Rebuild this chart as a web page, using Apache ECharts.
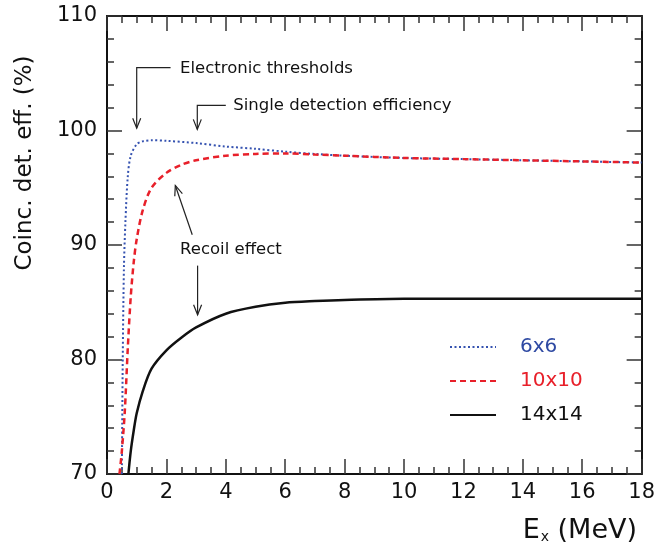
<!DOCTYPE html>
<html><head><meta charset="utf-8">
<script src="https://cdn.jsdelivr.net/npm/echarts@6/dist/echarts.min.js"></script>
<style>html,body{margin:0;padding:0;background:#fff;}#c{width:658px;height:549px;}</style>
</head><body><div id="c"></div>
<script>
// Data
const x6 = [0.50, 0.53, 0.57, 0.62, 0.70, 0.80, 1.0, 1.2, 1.5, 2.0, 3.0, 4.0, 5.0, 6.0, 7.0, 8.0, 10, 12, 14, 16, 18];
const y6 = [70, 80, 88, 92, 96, 97.8, 98.8, 99.05, 99.15, 99.1, 98.9, 98.6, 98.4, 98.15, 97.95, 97.8, 97.6, 97.5, 97.4, 97.3, 97.2];
const x10 = [0.42, 0.5, 0.6, 0.7, 0.8, 0.9, 1.0, 1.2, 1.5, 2.0, 2.5, 3.0, 4.0, 5.0, 6.0, 7.0, 8.0, 10, 12, 14, 16, 18];
const y10 = [70, 72, 75.5, 81, 85.5, 88.5, 90.5, 93, 95, 96.3, 97, 97.4, 97.8, 97.95, 98.0, 97.9, 97.8, 97.6, 97.5, 97.4, 97.3, 97.2];
const x14 = [0.72, 0.8, 0.9, 1.0, 1.2, 1.5, 2.0, 2.5, 3.0, 4.0, 5.0, 6.0, 7.0, 8.0, 10, 12, 14, 16, 18];
const y14 = [70, 72, 73.8, 75.3, 77.2, 79.2, 80.8, 81.9, 82.8, 84.0, 84.6, 84.95, 85.1, 85.2, 85.3, 85.3, 85.3, 85.3, 85.3];
const seriesNames = ['6x6', '10x10', '14x14'];
const xTicks = [0, 2, 4, 6, 8, 10, 12, 14, 16, 18];
const yTicks = [70, 80, 90, 100, 110];

const FONT = 'DejaVu Sans';
const zip = (a, b) => a.map((v, i) => [v, b[i]]);
const chart = echarts.init(document.getElementById('c'), null, {renderer: 'canvas'});

function axisCommon(split) {
  return {
    axisLine: {show: true, onZero: false, lineStyle: {color: '#111', width: 2}},
    axisTick: {show: true, inside: true, length: 15, lineStyle: {color: '#333', width: 1.5}},
    minorTick: {show: true, splitNumber: split, length: 7, lineStyle: {color: '#333', width: 1.5}},
    splitLine: {show: false},
  };
}

chart.setOption({
  animation: false,
  backgroundColor: '#fff',
  grid: {left: 107, right: 15, top: 16, bottom: 75, containLabel: false},
  xAxis: [
    Object.assign({type: 'value', min: xTicks[0], max: xTicks[xTicks.length - 1], interval: 2, position: 'bottom',
      axisLabel: {color: '#111', fontFamily: FONT, fontSize: 21, margin: 8}}, axisCommon(4)),
    Object.assign({type: 'value', min: xTicks[0], max: xTicks[xTicks.length - 1], interval: 2, position: 'top',
      axisLabel: {show: false}}, axisCommon(4))
  ],
  yAxis: [
    Object.assign({type: 'value', min: yTicks[0], max: yTicks[yTicks.length - 1], interval: 10, position: 'left',
      axisLabel: {color: '#111', fontFamily: FONT, fontSize: 21, margin: 10}}, axisCommon(5)),
    Object.assign({type: 'value', min: yTicks[0], max: yTicks[yTicks.length - 1], interval: 10, position: 'right',
      axisLabel: {show: false}}, axisCommon(5))
  ],
  legend: {
    orient: 'vertical', left: 449, top: 337, padding: 0, itemWidth: 46, itemHeight: 20, itemGap: 14,
    itemStyle: {color: 'rgba(0,0,0,0)', borderColor: 'rgba(0,0,0,0)', borderWidth: 0},
    data: [
      {name: seriesNames[0], textStyle: {color: '#2f4aa3'}},
      {name: seriesNames[1], textStyle: {color: '#e8202a'}},
      {name: seriesNames[2], textStyle: {color: '#111'}}
    ],
    textStyle: {fontFamily: FONT, fontSize: 20, padding: [0, 0, 0, 19]}
  },
  series: [
    {name: seriesNames[0], type: 'line', data: zip(x6, y6), symbol: 'none', smooth: 0.3,
      lineStyle: {color: '#3552b0', width: 2, type: [2, 2.5]}, itemStyle: {color: '#3552b0'}},
    {name: seriesNames[1], type: 'line', data: zip(x10, y10), symbol: 'none', smooth: 0.3,
      lineStyle: {color: '#e8202a', width: 2.5, type: [6, 4]}, itemStyle: {color: '#e8202a'}},
    {name: seriesNames[2], type: 'line', data: zip(x14, y14), symbol: 'none', smooth: 0.3,
      lineStyle: {color: '#111', width: 2.5, type: 'solid'}, itemStyle: {color: '#111'}}
  ]
});

// Annotations placed in data coordinates
const P = (x, y) => chart.convertToPixel({xAxisIndex: 0, yAxisIndex: 0}, [x, y]);
function arrow(pts) {
  const els = [];
  els.push({type: 'polyline', shape: {points: pts}, style: {stroke: '#222', lineWidth: 1.2, fill: null}});
  const a = pts[pts.length - 1], b = pts[pts.length - 2];
  const dx = a[0] - b[0], dy = a[1] - b[1], L = Math.hypot(dx, dy), ux = dx / L, uy = dy / L;
  const hl = 10, hw = 4;
  const p1 = [a[0] - ux * hl - uy * hw, a[1] - uy * hl + ux * hw];
  const p2 = [a[0] - ux * hl + uy * hw, a[1] - uy * hl - ux * hw];
  els.push({type: 'polyline', shape: {points: [p1, a, p2]}, style: {stroke: '#222', lineWidth: 1.2, fill: null}});
  return els;
}
function label(x, y, text) {
  const p = P(x, y);
  return {type: 'text', x: p[0], y: p[1], style: {text: text, fill: '#111', font: '16.5px "' + FONT + '"', textVerticalAlign: 'middle', textAlign: 'left'}};
}
const g = [];
g.push(...arrow([P(2.14, 105.5), P(1.0, 105.5), P(1.0, 100.2)]));
g.push(label(2.46, 105.4, 'Electronic thresholds'));
g.push(...arrow([P(4.0, 102.2), P(3.04, 102.2), P(3.04, 100.1)]));
g.push(label(4.25, 102.2, 'Single detection efficiency'));
g.push(...arrow([P(2.87, 90.9), P(2.3, 95.2)]));
g.push(...arrow([P(3.05, 88.2), P(3.05, 83.9)]));
g.push(label(2.46, 89.6, 'Recoil effect'));
// axis titles
g.push({type: 'text', x: 25, y: 163, rotation: Math.PI / 2,
  style: {text: 'Coinc. det. eff. (%)', fill: '#111', font: '23px "' + FONT + '"', textAlign: 'center', textVerticalAlign: 'middle'}});
g.push({type: 'text', x: 637, y: 531,
  style: {text: '{m|E}{s|x}{m| (MeV)}', fill: '#111', textAlign: 'right', textVerticalAlign: 'middle',
    rich: {m: {fontFamily: FONT, fontSize: 27, color: '#111'}, s: {fontFamily: FONT, fontSize: 14, color: '#111', padding: [13, 0, 0, 1]}}}});
chart.setOption({graphic: {elements: g}});
</script></body></html>
